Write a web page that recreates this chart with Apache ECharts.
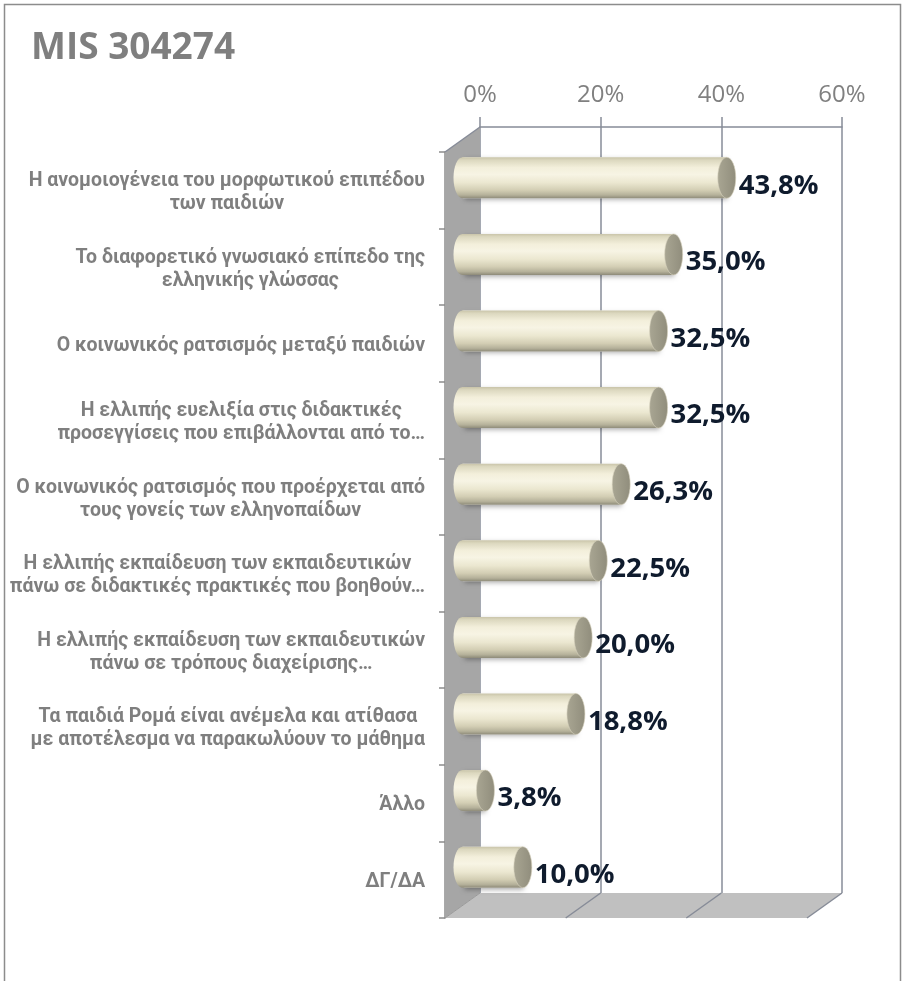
<!DOCTYPE html>
<html><head><meta charset="utf-8">
<script src="https://cdn.jsdelivr.net/npm/echarts@6/dist/echarts.min.js"></script>
<style>html,body{margin:0;padding:0;background:#fff}#c{width:904px;height:981px}</style>
</head><body><div id="c"></div>
<script>
// ---- data ----
const categories = [
  "Η ανομοιογένεια του μορφωτικού επιπέδου\nτων παιδιών",
  "Το διαφορετικό γνωσιακό επίπεδο της\nελληνικής γλώσσας",
  "Ο κοινωνικός ρατσισμός μεταξύ παιδιών",
  "Η ελλιπής ευελιξία στις διδακτικές\nπροσεγγίσεις που επιβάλλονται από το…",
  "Ο κοινωνικός ρατσισμός που προέρχεται από\nτους γονείς των ελληνοπαίδων",
  "Η ελλιπής εκπαίδευση των εκπαιδευτικών\nπάνω σε διδακτικές πρακτικές που βοηθούν…",
  "Η ελλιπής εκπαίδευση των εκπαιδευτικών\nπάνω σε τρόπους διαχείρισης…",
  "Τα παιδιά Ρομά είναι ανέμελα και ατίθασα\nμε αποτέλεσμα να παρακωλύουν το μάθημα",
  "Άλλο",
  "ΔΓ/ΔΑ"
];
const values = [43.8, 35.0, 32.5, 32.5, 26.3, 22.5, 20.0, 18.8, 3.8, 10.0];
const axisMin = 0, axisMax = 60, axisStep = 20;   // tick labels 0%,20%,40%,60%
const titleText = "MIS 304274";

// ---- layout / style ----
const DX = 35, DY = -25;              // depth vector front -> back
const gridColor = '#878c98';
const labelGrey = '#7f7f7f';

const chart = echarts.init(document.getElementById('c'), null, {renderer: 'canvas'});

function fmtPct(v) { return v.toFixed(1).replace('.', ',') + '%'; }

function renderWalls(params, api) {
  const cs = params.coordSys;
  const x0 = cs.x, y0 = cs.y, y1 = cs.y + cs.height, w = cs.width;
  const children = [
    {type: 'polygon', shape: {points: [[x0, y0], [x0 + DX, y0 + DY], [x0 + DX, y1 + DY], [x0, y1]]},
     style: {fill: '#a6a6a6'}},
    {type: 'polygon', shape: {points: [[x0, y1], [x0 + DX, y1 + DY], [x0 + DX + w, y1 + DY], [x0 + w, y1]]},
     style: {fill: '#c0c0c0'}},
    {type: 'line', shape: {x1: x0, y1: y0, x2: x0 + DX, y2: y0 + DY}, style: {stroke: gridColor, lineWidth: 1.5}},
    {type: 'line', shape: {x1: x0, y1: y1, x2: x0 + DX, y2: y1 + DY}, style: {stroke: '#9a9a9a', lineWidth: 1}}
  ];
  for (let v = axisMin + axisStep; v <= axisMax; v += axisStep) {
    const xf = api.coord([v, 0])[0];
    children.push({type: 'line', shape: {x1: xf, y1: y1, x2: xf + DX, y2: y1 + DY},
      style: {stroke: gridColor, lineWidth: 1.5}});
  }
  return {type: 'group', children};
}

function renderBar(params, api) {
  const v = api.value(0), ci = api.value(1);
  const p0 = api.coord([0, ci]), p1 = api.coord([v, ci]);
  const band = api.size([0, 1])[1];
  const h = band * 0.535, ry = h / 2, rx = 9;
  const xs = p0[0] + DX / 2, xe = p1[0] + DX / 2, yc = p0[1] + DY / 2;
  const bodyFill = () => new echarts.graphic.LinearGradient(0, 0, 0, 1, [
    {offset: 0, color: '#c9c4a9'},
    {offset: 0.07, color: '#dcd8bf'},
    {offset: 0.25, color: '#f3efdb'},
    {offset: 0.42, color: '#f7f4e4'},
    {offset: 0.62, color: '#ebe7d0'},
    {offset: 0.8, color: '#d3ceb4'},
    {offset: 0.92, color: '#b5b19a'},
    {offset: 1, color: '#8e8b79'}
  ]);
  const capFill = new echarts.graphic.LinearGradient(0, 0, 1, 0, [
    {offset: 0, color: '#a9a693'}, {offset: 1, color: '#908d7c'}
  ]);
  return {type: 'group', children: [
    {type: 'rect', shape: {x: xs, y: yc - ry, width: xe - xs, height: h},
     style: {fill: '#fff', shadowBlur: 5, shadowColor: 'rgba(0,0,0,0.35)', shadowOffsetY: 2, shadowOffsetX: 1}},
    {type: 'ellipse', shape: {cx: xs, cy: yc, rx: rx, ry: ry}, style: {fill: bodyFill()}},
    {type: 'rect', shape: {x: xs, y: yc - ry, width: xe - xs, height: h}, style: {fill: bodyFill()}},
    {type: 'ellipse', shape: {cx: xe, cy: yc, rx: rx, ry: ry}, style: {fill: capFill, stroke: '#d8d4bf', lineWidth: 0.6}},
    {type: 'text', style: {text: fmtPct(v), x: xe + rx + 3, y: yc + 8, verticalAlign: 'middle', align: 'left',
      fontFamily: 'Open Sans', fontWeight: 'bold', fontSize: 27.5, fill: '#0f1b2d'}}
  ]};
}

const option = {
  backgroundColor: '#ffffff',
  animation: false,
  title: {text: titleText, left: 26, top: 25,
    textStyle: {fontFamily: 'Open Sans', fontWeight: 'bold', fontSize: 37, color: labelGrey}},
  graphic: [{type: 'rect', shape: {x: 4.5, y: 4.5, width: 896, height: 1000},
    style: {fill: 'none', stroke: '#8c8c8c', lineWidth: 1.5}, z: 100}],
  grid: [
    {left: 480, top: 127, width: 362, height: 766},   // back plane
    {left: 445, top: 152, width: 362, height: 766}    // front plane
  ],
  xAxis: [
    {gridIndex: 0, type: 'value', position: 'top', min: axisMin, max: axisMax, interval: axisStep,
     axisLine: {show: true, lineStyle: {color: gridColor, width: 1.5}},
     axisTick: {show: true, length: 10, lineStyle: {color: gridColor, width: 1.5}},
     axisLabel: {formatter: '{value}%', fontFamily: 'Open Sans', fontSize: 24, color: '#808080', margin: 20},
     splitLine: {show: true, lineStyle: {color: gridColor, width: 1.5}}},
    {gridIndex: 1, type: 'value', min: axisMin, max: axisMax, interval: axisStep, show: false}
  ],
  yAxis: [
    {gridIndex: 0, type: 'category', data: categories, inverse: true, show: false},
    {gridIndex: 1, type: 'category', data: categories, inverse: true,
     axisLine: {show: true, lineStyle: {color: '#8c8c8c', width: 1.5}},
     axisTick: {show: true, length: 6, lineStyle: {color: '#8c8c8c', width: 1.5}},
     splitLine: {show: false},
     axisLabel: {margin: 20, align: 'right', padding: [5, 0, 0, 0],
       formatter: (s) => s.split('\n').map(l => '{c|' + l + '}').join('\n'),
       rich: {c: {align: 'center', fontFamily: 'Roboto', fontWeight: 'bold', fontSize: 19.5,
                  lineHeight: 23, color: labelGrey}}}}
  ],
  series: [
    {type: 'custom', xAxisIndex: 1, yAxisIndex: 1, z: 1, silent: true,
     data: [[0, 0]], renderItem: renderWalls},
    {type: 'custom', xAxisIndex: 1, yAxisIndex: 1, z: 3,
     data: values.map((v, i) => [v, i]), renderItem: renderBar}
  ]
};
chart.setOption(option);
</script></body></html>
